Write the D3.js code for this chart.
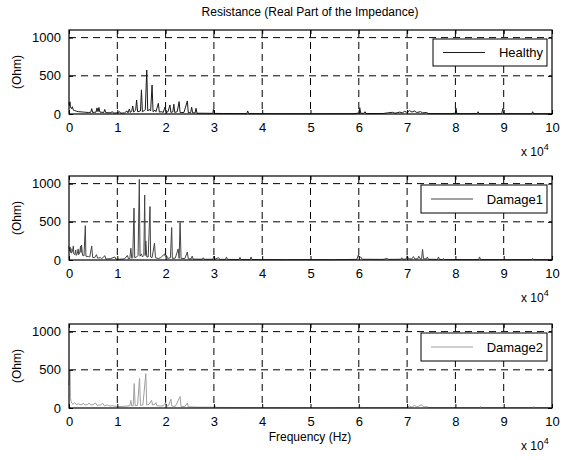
<!DOCTYPE html>
<html>
<head>
<meta charset="utf-8">
<script src="https://cdn.jsdelivr.net/npm/d3@7"></script>
<style>
  html, body { margin: 0; padding: 0; background: #fff; }
  text { font-family: "Liberation Sans", Arial, sans-serif; }
</style>
</head>
<body>
<div id="viz"></div>
<script>
// ── DATA ─────────────────────────────────────────────────────────────────────
// frequency in units of 10^4 Hz, resistance in Ohm
const xTicks = [0, 1, 2, 3, 4, 5, 6, 7, 8, 9, 10];
const yTicks = [0, 500, 1000];
const seriesNames = ["Healthy", "Damage1", "Damage2"];

const healthy = [[0,150],[0.01,110],[0.02,160],[0.03,90],[0.05,70],[0.07,95],[0.09,50],[0.12,45],[0.16,35],[0.2,30],
  [0.25,28],[0.3,25],[0.35,22],[0.4,20],[0.45,22],[0.47,70],[0.49,20],[0.56,25],[0.58,80],[0.6,30],[0.62,85],[0.64,25],
  [0.72,20],[0.74,60],[0.76,18],[0.85,15],[0.9,30],[0.92,12],[1.0,15],[1.05,30],[1.07,10],[1.15,15],[1.2,40],[1.22,15],
  [1.25,66],[1.27,20],[1.3,40],[1.32,105],[1.34,25],[1.38,50],[1.40,184],[1.42,30],[1.48,40],[1.50,316],[1.52,30],
  [1.55,40],[1.58,60],[1.61,575],[1.63,40],[1.66,60],[1.69,40],[1.72,380],[1.74,30],[1.78,50],[1.8,30],[1.85,140],
  [1.87,25],[1.92,30],[1.95,20],[1.99,92],[2.01,20],[2.05,30],[2.09,118],[2.11,20],[2.15,30],[2.17,128],[2.19,20],
  [2.24,30],[2.28,162],[2.3,20],[2.38,20],[2.45,171],[2.47,15],[2.52,20],[2.54,88],[2.56,15],[2.61,15],[2.63,75],
  [2.65,10],[2.8,10],[2.98,8],[2.99,60],[3.01,8],[3.2,6],[3.5,5],[3.68,5],[3.7,40],[3.72,5],[4.2,4],[5,3],[5.9,4],
  [6.0,12],[6.02,83],[6.04,10],[6.1,8],[6.13,30],[6.15,6],[6.5,6],[6.6,15],[6.7,22],[6.75,10],[6.85,25],[6.9,15],
  [6.95,35],[7.0,20],[7.05,45],[7.1,25],[7.15,40],[7.2,20],[7.28,30],[7.32,15],[7.4,20],[7.45,5],[7.9,4],[8.0,10],
  [8.01,80],[8.03,5],[8.45,4],[8.47,30],[8.49,4],[8.96,4],[8.98,70],[9.0,4],[9.58,3],[9.6,30],[9.62,3],[10,3]];

const damage1 = [[0,180],[0.01,120],[0.02,170],[0.03,100],[0.04,150],[0.05,90],[0.07,110],[0.09,184],[0.1,80],
  [0.12,70],[0.14,130],[0.15,60],[0.17,80],[0.19,145],[0.2,70],[0.22,90],[0.24,180],[0.25,100],[0.26,196],[0.28,60],
  [0.31,55],[0.338,450],[0.35,50],[0.4,45],[0.43,40],[0.47,184],[0.49,35],[0.53,30],[0.57,70],[0.59,25],[0.65,30],
  [0.68,20],[0.745,57],[0.76,15],[0.85,15],[0.95,40],[0.97,12],[1.05,10],[1.15,15],[1.21,60],[1.23,15],[1.26,20],
  [1.28,154],[1.30,20],[1.32,30],[1.346,680],[1.36,30],[1.4,40],[1.43,60],[1.456,1055],[1.47,50],[1.5,80],[1.52,40],
  [1.55,60],[1.567,850],[1.58,60],[1.59,250],[1.61,40],[1.64,40],[1.677,700],[1.69,40],[1.72,30],[1.77,220],[1.79,30],
  [1.85,20],[1.9,30],[1.96,70],[1.98,80],[1.99,50],[2.02,60],[2.04,20],[2.1,30],[2.126,425],[2.14,20],[2.2,25],
  [2.26,145],[2.28,20],[2.30,490],[2.32,20],[2.4,20],[2.45,105],[2.47,15],[2.53,15],[2.55,50],[2.57,12],[2.76,10],
  [2.78,30],[2.8,10],[2.98,10],[3.0,50],[3.02,10],[3.1,30],[3.12,8],[3.24,8],[3.26,40],[3.28,8],[3.52,6],[3.54,35],
  [3.56,6],[3.75,6],[3.77,40],[3.79,6],[4.5,5],[5.5,5],[5.96,8],[5.99,65],[6.01,30],[6.04,40],[6.07,10],[6.5,8],
  [6.59,20],[6.61,8],[6.87,10],[6.89,30],[6.91,10],[6.98,12],[7.0,55],[7.03,15],[7.1,15],[7.13,45],[7.16,15],
  [7.22,15],[7.24,50],[7.27,15],[7.3,15],[7.32,140],[7.34,15],[7.4,15],[7.42,40],[7.44,10],[7.63,8],[7.65,40],
  [7.67,8],[7.73,6],[7.75,15],[7.77,6],[8.48,6],[8.5,40],[8.52,6],[9.58,5],[9.6,20],[9.62,5],[10,5]];

const damage2 = [[0,300],[0.02,510],[0.03,140],[0.04,90],[0.06,60],[0.08,50],[0.12,70],[0.15,45],[0.2,55],[0.25,40],
  [0.3,60],[0.33,40],[0.38,45],[0.42,65],[0.45,40],[0.5,45],[0.55,65],[0.58,35],[0.65,40],[0.7,60],[0.73,30],[0.8,40],
  [0.85,25],[0.9,30],[1.0,20],[1.1,20],[1.2,25],[1.26,30],[1.28,100],[1.30,25],[1.33,30],[1.35,320],[1.37,30],
  [1.42,35],[1.46,390],[1.48,35],[1.53,40],[1.59,450],[1.61,40],[1.66,50],[1.71,100],[1.73,40],[1.78,50],[1.8,70],
  [1.82,30],[1.9,25],[1.95,30],[2.0,70],[2.02,25],[2.06,30],[2.11,115],[2.13,25],[2.2,20],[2.3,150],[2.32,20],
  [2.4,20],[2.45,65],[2.47,15],[2.6,12],[2.8,10],[3.0,10],[3.02,30],[3.04,8],[3.5,6],[4.0,5],[5,4],[6,5],[6.02,20],
  [6.04,5],[7.0,6],[7.05,25],[7.1,10],[7.15,35],[7.2,15],[7.3,40],[7.35,10],[7.4,20],[7.45,5],[8.5,5],[8.52,20],
  [8.54,5],[9.6,5],[9.62,20],[9.64,5],[10,5]];

// ── SETTINGS ────────────────────────────────────────────────────────────────
const width = 563, height = 460;
const left = 69, right = 552;
const panelTops = [30, 176, 324];
const panelH = 84;
const colors = ["#1a1a1a", "#444444", "#a0a0a0"];
const legendBoxes = [[433, 39, 114, 27], [421, 185, 126, 28], [421, 333, 126, 28]];

const svg = d3.select("#viz").append("svg")
    .attr("width", width)
    .attr("height", height)
    .attr("viewBox", [0, 0, width, height]);

const x = d3.scaleLinear().domain([0, 10]).range([left, right]);

svg.append("text")
    .attr("x", 310).attr("y", 16)
    .attr("text-anchor", "middle")
    .attr("font-size", "12px")
    .text("Resistance (Real Part of the Impedance)");

const allSeries = [healthy, damage1, damage2];

allSeries.forEach((data, i) => {
  const top = panelTops[i], bottom = top + panelH;
  const y = d3.scaleLinear().domain([0, 1100]).range([bottom, top]);
  const g = svg.append("g");

  // grid
  g.selectAll(".vgrid").data(xTicks.slice(1, -1)).join("line")
      .attr("x1", d => x(d)).attr("x2", d => x(d))
      .attr("y1", top).attr("y2", bottom)
      .attr("stroke", "#000").attr("stroke-width", 1)
      .attr("stroke-dasharray", "7,5");
  g.selectAll(".hgrid").data(yTicks.slice(1)).join("line")
      .attr("x1", left).attr("x2", right)
      .attr("y1", d => y(d)).attr("y2", d => y(d))
      .attr("stroke", "#000").attr("stroke-width", 1)
      .attr("stroke-dasharray", "7,5");

  // series line
  const line = d3.line().x(d => x(d[0])).y(d => y(d[1]));
  g.append("path")
      .datum(data)
      .attr("d", line)
      .attr("fill", "none")
      .attr("stroke", colors[i])
      .attr("stroke-width", 1);

  // axes with inward ticks
  g.append("g").attr("transform", `translate(0,${bottom})`)
      .call(d3.axisBottom(x).tickValues(xTicks).tickSizeInner(-4).tickSizeOuter(0).tickPadding(9).tickFormat(d3.format("d")))
      .call(a => a.select(".domain").remove())
      .call(a => a.selectAll("text").attr("font-size", "13px").attr("font-family", "Liberation Sans, Arial, sans-serif").attr("fill", "#000"));
  g.append("g").attr("transform", `translate(0,${top})`)
      .call(d3.axisTop(x).tickValues(xTicks).tickSizeInner(-4).tickSizeOuter(0).tickFormat(""))
      .call(a => a.select(".domain").remove());
  g.append("g").attr("transform", `translate(${left},0)`)
      .call(d3.axisLeft(y).tickValues(yTicks).tickSizeInner(-4).tickSizeOuter(0).tickPadding(8).tickFormat(d3.format("d")))
      .call(a => a.select(".domain").remove())
      .call(a => a.selectAll("text").attr("font-size", "13px").attr("font-family", "Liberation Sans, Arial, sans-serif").attr("fill", "#000"));
  g.append("g").attr("transform", `translate(${right},0)`)
      .call(d3.axisRight(y).tickValues(yTicks).tickSizeInner(-4).tickSizeOuter(0).tickFormat(""))
      .call(a => a.select(".domain").remove());

  // frame
  g.append("rect")
      .attr("x", left).attr("y", top)
      .attr("width", right - left).attr("height", panelH)
      .attr("fill", "none").attr("stroke", "#000").attr("stroke-width", 1.2);

  // y label
  svg.append("text")
      .attr("transform", `translate(21,${top + panelH / 2}) rotate(-90)`)
      .attr("text-anchor", "middle")
      .attr("font-size", "12px")
      .text("(Ohm)");

  // x 10^4 multiplier
  const mult = svg.append("text")
      .attr("x", 521).attr("y", bottom + 42)
      .attr("font-size", "12px");
  mult.append("tspan").text("x 10");
  mult.append("tspan").attr("dy", -6).attr("font-size", "9px").text("4");

  // legend
  const [lx, ly, lw, lh] = legendBoxes[i];
  const lg = svg.append("g");
  lg.append("rect")
      .attr("x", lx).attr("y", ly).attr("width", lw).attr("height", lh)
      .attr("fill", "#fff").attr("stroke", "#000").attr("stroke-width", 1);
  lg.append("line")
      .attr("x1", lx + 10).attr("x2", lx + 52)
      .attr("y1", ly + lh / 2).attr("y2", ly + lh / 2)
      .attr("stroke", colors[i]).attr("stroke-width", 1);
  lg.append("text")
      .attr("x", lx + lw - 4).attr("y", ly + lh / 2 + 4.5)
      .attr("text-anchor", "end")
      .attr("font-size", "13px")
      .text(seriesNames[i]);
});

svg.append("text")
    .attr("x", 310).attr("y", 441)
    .attr("text-anchor", "middle")
    .attr("font-size", "12px")
    .text("Frequency (Hz)");
</script>
</body>
</html>
